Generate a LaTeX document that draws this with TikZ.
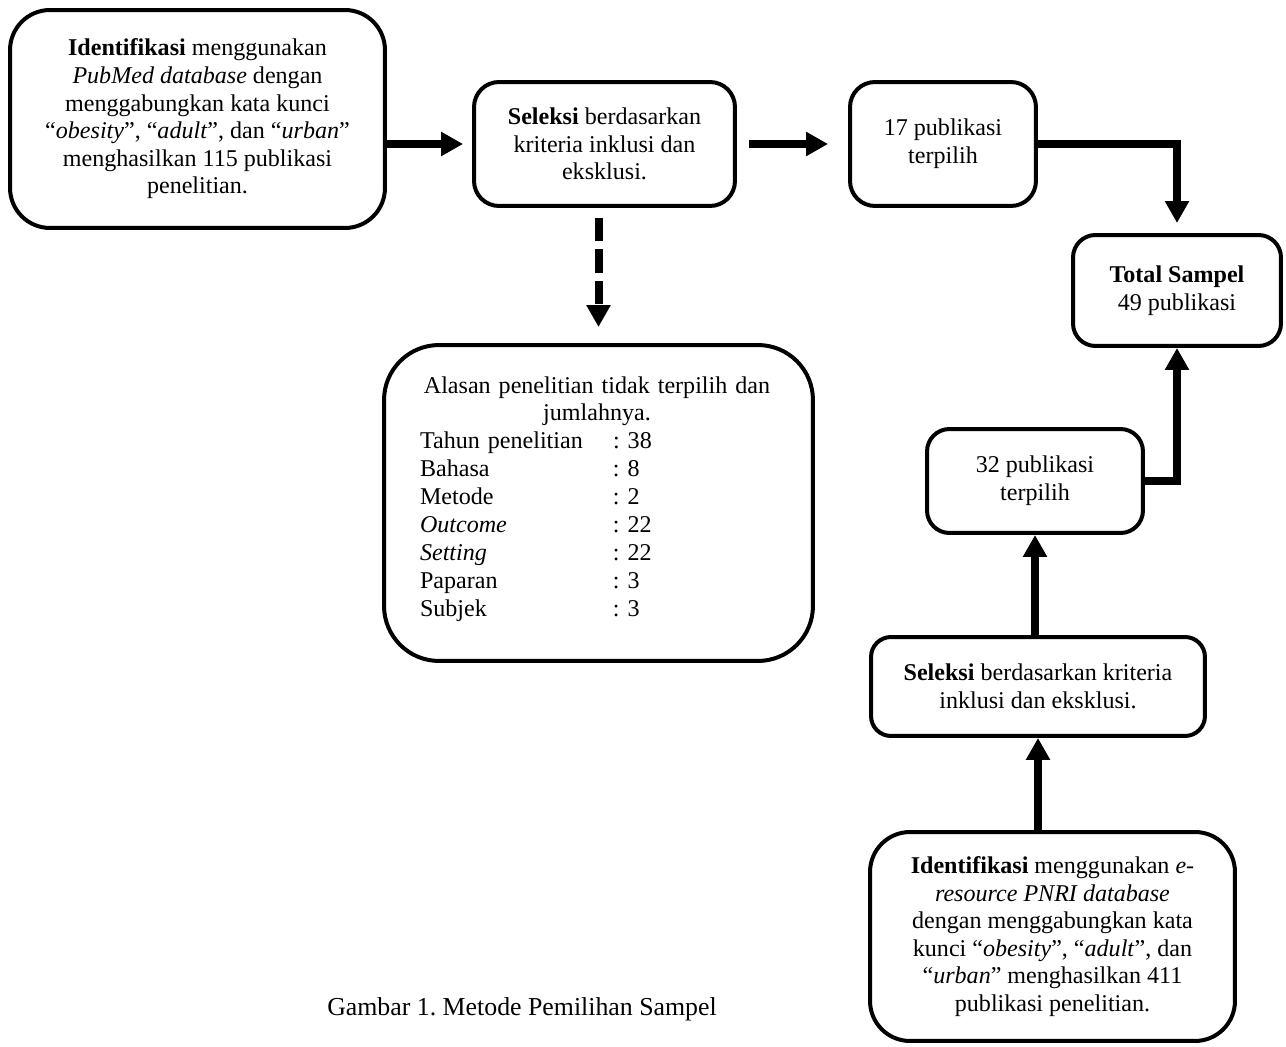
\documentclass[tikz,border=0pt]{standalone}
\usepackage{fontspec}
\setmainfont{Liberation Serif}
\usetikzlibrary{arrows.meta}
\frenchspacing
\begin{document}
\begin{tikzpicture}[x=0.02cm,y=-0.02cm,
  box/.style={draw, line width=0.08cm, align=center, inner sep=0pt, font=\fontsize{13.7}{15.7}\selectfont},
  flow/.style={line width=0.16cm, -{Triangle[length=0.44cm,width=0.46cm]}},
  txt/.style={inner sep=0pt, font=\fontsize{13.7}{15.9}\selectfont}
  ]
\useasboundingbox[fill=white] (0,0) rectangle (1286,1047);

\node[box, rounded corners=0.8cm, minimum width=7.5cm, minimum height=4.36cm] (id1) at (197.5,119)
  {\textbf{Identifikasi} menggunakan\\ \textit{PubMed database} dengan\\ menggabungkan kata kunci\\ “\textit{obesity}”, “\textit{adult}”, dan “\textit{urban}”\\ menghasilkan 115 publikasi\\ penelitian.};
\node[box, rounded corners=0.5cm, minimum width=5.22cm, minimum height=2.48cm] (sel1) at (604.5,144)
  {\textbf{Seleksi} berdasarkan\\ kriteria inklusi dan\\ eksklusi.};
\node[box, rounded corners=0.5cm, minimum width=3.72cm, minimum height=2.48cm] (p17) at (943,144)
  {17 publikasi\\ terpilih};
\node[box, rounded corners=0.45cm, minimum width=4.16cm, minimum height=2.22cm] (tot) at (1177,290.5)
  {\textbf{Total Sampel}\\ 49 publikasi};
\node[box, rounded corners=1.1cm, minimum width=8.58cm, minimum height=6.32cm] (why) at (598.5,503) {};
\node[txt, text width=7.08cm, align=left] (whytxt) at (597,499)
  {\makebox[\linewidth]{Alasan penelitian tidak terpilih dan}\\
   \makebox[\linewidth]{jumlahnya.}\\
   \makebox[3.86cm][l]{Tahun penelitian}: 38\\
   \makebox[3.86cm][l]{Bahasa}: 8\\
   \makebox[3.86cm][l]{Metode}: 2\\
   \makebox[3.86cm][l]{\textit{Outcome}}: 22\\
   \makebox[3.86cm][l]{\textit{Setting}}: 22\\
   \makebox[3.86cm][l]{Paparan}: 3\\
   \makebox[3.86cm][l]{Subjek}: 3};
\node[box, rounded corners=0.45cm, minimum width=4.32cm, minimum height=2.08cm] (p32) at (1035,481)
  {32 publikasi\\ terpilih};
\node[box, rounded corners=0.4cm, minimum width=6.68cm, minimum height=1.98cm] (sel2) at (1038,686.5)
  {\textbf{Seleksi} berdasarkan kriteria\\ inklusi dan eksklusi.};
\node[box, rounded corners=0.8cm, minimum width=7.3cm, minimum height=4.18cm] (id2) at (1052.5,936.5)
  {\textbf{Identifikasi} menggunakan \textit{e-}\\ \textit{resource PNRI database}\\ dengan menggabungkan kata\\ kunci “\textit{obesity}”, “\textit{adult}”, dan\\ “\textit{urban}” menghasilkan 411\\ publikasi penelitian.};
\node[inner sep=0pt, font=\fontsize{14.7}{17}\selectfont] (cap) at (522,1009) {Gambar 1. Metode Pemilihan Sampel};

\draw[flow, shorten >=0.18cm] (id1.east |- sel1.west) -- (sel1.west);
\draw[flow, shorten <=0.24cm, shorten >=0.4cm] (sel1.east) -- (p17.west);
\draw[flow, shorten >=0.2cm] (p17.east) -| (tot.north);
\draw[flow, dash pattern=on 0.47cm off 0.16cm, shorten <=0.2cm, shorten >=0.32cm] (why.north |- sel1.south) -- (why.north);
\draw[flow] (p32.east) -| (tot.south);
\draw[flow] (p32.south |- sel2.north) -- (p32.south);
\draw[flow] (sel2.south |- id2.north) -- (sel2.south);
\end{tikzpicture}
\end{document}
